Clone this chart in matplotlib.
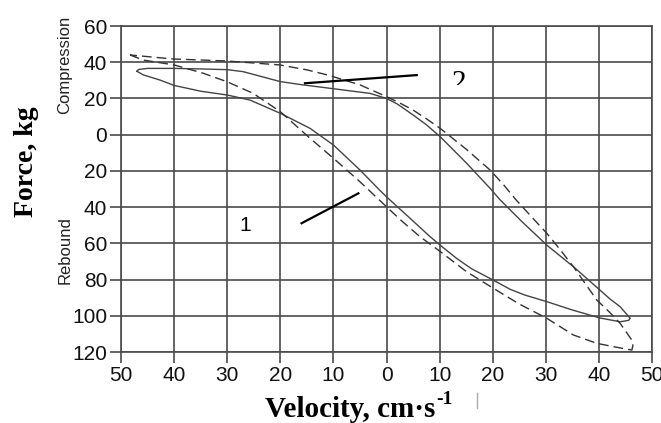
import matplotlib
matplotlib.use('Agg')
import matplotlib.pyplot as plt
from matplotlib.transforms import Bbox, TransformedBbox
from matplotlib.lines import Line2D

# loop 1 (solid), velocity cm/s (left = negative) and force kg (up = compression)
velocity_solid = [-47, -45.8, -42.7, -40, -35, -30, -25.7, -20, -14.4, -10, -5, -1.3, 0, 4, 8.2,
                  10.1, 13.2, 16, 20.1, 23.3, 26, 30.2, 35, 40.2, 44, 45.6, 45.9, 44, 42, 40.2,
                  35.2, 30.2, 25.5, 21.4, 19.5, 15, 10.1, 7.5, 5, 2, 0, -3.1, -10.6, -16, -20,
                  -27, -30, -35, -40, -45, -46.7, -47]
force_solid = [35, 33, 30.2, 27.2, 24, 21.9, 19.1, 11.8, 3.5, -5.7, -19.5, -30.6, -34.3, -45, -56.3,
               -61, -68.3, -74, -80.3, -85.4, -88.5, -92.2, -96.8, -101.2, -103.3, -102.5, -101.4, -95,
               -90.5, -85.8, -72.9, -61, -48, -36, -29.6, -15.5, -1.1, 5.5, 10.9, 17, 20, 22.8, 25.6,
               27.6, 29.3, 34.8, 35.9, 36.3, 36.6, 36.6, 36, 35]

# loop 2 (dashed)
velocity_dashed = [-48.3, -45.8, -40, -34.5, -30, -25.1, -20, -14.4, -10, -5, 0, 3, 6.3, 10.1, 15,
                   20.1, 25, 30.2, 35.2, 39.6, 42.7, 45, 46.2, 46.4, 46.2, 44, 42, 39.6, 37.5, 35.2,
                   32.7, 30.2, 27.2, 24.4, 22, 19.5, 15, 10.1, 7.5, 5, 2.5, 0, -5, -11, -15, -20.1,
                   -30.1, -40.2, -48.3]
force_dashed = [44, 41.2, 38.5, 33.9, 29.2, 22.8, 12.7, -2, -13, -26, -39.8, -48, -56.3, -64.5, -75.5,
                -84.8, -93.5, -101.4, -110.6, -115.2, -117, -118.3, -118.9, -116.5, -113.4, -104.2,
                -98, -91.3, -82.5, -72.9, -63.5, -54.5, -45, -36, -27.5, -19.5, -8, 3.5, 8.8, 13.6,
                17.5, 21, 27.5, 32.9, 35.8, 38.5, 40.7, 41.8, 44]

x_ticks = list(range(-50, 51, 10))
y_ticks = list(range(-120, 61, 20))

fig = plt.figure(figsize=(6.61, 4.23), dpi=100)
ax = fig.add_axes([0.1831, 0.1678, 0.8033, 0.7707])

grid_col = '#4a4a4a'
ax.set_xlim(-50, 50)
ax.set_ylim(-120, 60)
ax.set_xticks(x_ticks)
ax.set_yticks(y_ticks)
ax.set_xticklabels([str(abs(v)) for v in x_ticks])
ax.set_yticklabels([str(abs(v)) for v in y_ticks])
ax.grid(True, color=grid_col, lw=1.2)
for s in ax.spines.values():
    s.set_color(grid_col)
    s.set_linewidth(1.2)
ax.tick_params(direction='out', length=8, width=1.2, color=grid_col, pad=2,
               labelsize=15, labelcolor='#111111')
for lab in ax.get_xticklabels() + ax.get_yticklabels():
    lab.set_family(['Liberation Sans', 'DejaVu Sans'])

ax.plot(velocity_solid, force_solid, color='#444444', lw=1.0, solid_joinstyle='round')
ax.plot(velocity_dashed, force_dashed, color='#333333', lw=1.0, dashes=(7, 3.6))

# leader lines
ax.plot([-16.0, -5.3], [-48.9, -32.4], color='black', lw=1.6)
ax.plot([-15.35, 5.7], [28.4, 32.9], color='black', lw=1.6)

ax.text(-26.6, -50.4, '1', fontsize=15, family=['Liberation Sans'], ha='center', va='center')
# label "2" is cut off at its bottom in the original
t2 = ax.text(13.6, 28.8, '2', fontsize=21, family=['Liberation Serif'], ha='center',
             va='center', clip_on=True)
t2.set_clip_box(TransformedBbox(Bbox([[0, 27.3], [30, 47.3]]), ax.transData))

fig.text(65 / 661, 1 - 65 / 423, 'Compression', rotation=90, fontsize=12,
         family=['Liberation Sans'], ha='center', va='center', color='#222222')
fig.text(65 / 661, 1 - 250 / 423, 'Rebound', rotation=90, fontsize=12,
         family=['Liberation Sans'], ha='center', va='center', color='#222222')
fig.text(27 / 661, 1 - 162 / 423, 'Force, kg', rotation=90, fontsize=20, fontweight='bold',
         family=['Liberation Serif'], ha='center', va='center')

xl = fig.text(265 / 661, 1 - 417 / 423, 'Velocity, cm\u00b7s', fontsize=21,
              fontweight='bold', family=['Liberation Serif'], ha='left', va='baseline')
fig.canvas.draw()
bb = xl.get_window_extent()
fig.text(bb.x1 / 661 + 0.001, 1 - 404 / 423, '-1', fontsize=14, fontweight='bold',
         family=['Liberation Serif'], ha='left', va='baseline')

fig.add_artist(Line2D([477 / 661, 477 / 661], [1 - 393 / 423, 1 - 408 / 423],
                      color='#aaaaaa', lw=1))

fig.savefig('out.png', dpi=100)
